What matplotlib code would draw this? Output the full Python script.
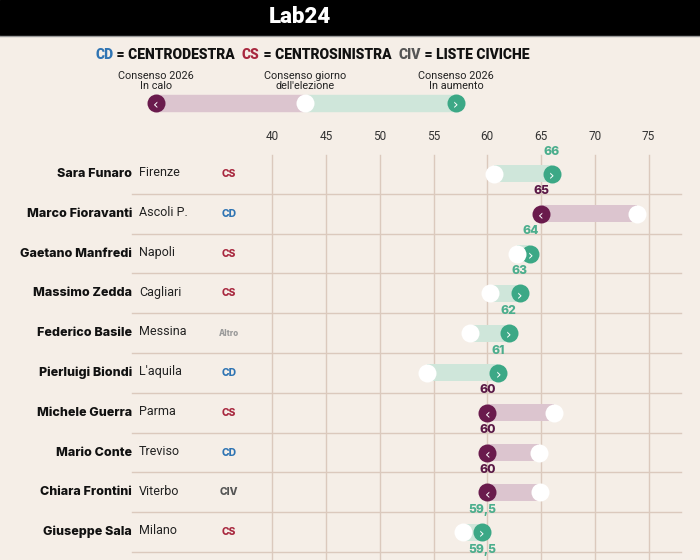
import matplotlib
matplotlib.use("Agg")
import matplotlib.pyplot as plt
from matplotlib.patches import Rectangle

# data (consenso 2026 vs giorno dell'elezione)
names = ['Sara Funaro', 'Marco Fioravanti', 'Gaetano Manfredi', 'Massimo Zedda',
         'Federico Basile', 'Pierluigi Biondi', 'Michele Guerra', 'Mario Conte',
         'Chiara Frontini', 'Giuseppe Sala', '']
cities = ['Firenze', 'Ascoli P.', 'Napoli', 'Cagliari', 'Messina', "L'aquila",
          'Parma', 'Treviso', 'Viterbo', 'Milano', '']
parties = ['CS', 'CD', 'CS', 'CS', 'Altro', 'CD', 'CS', 'CD', 'CIV', 'CS', '']
election = [60.6, 73.9, 62.8, 60.3, 58.4, 54.4, 66.2, 64.8, 64.9, 57.7, 58.0]
consenso = [66, 65, 64, 63, 62, 61, 60, 60, 60, 59.5, 59.5]
ticks = [40, 45, 50, 55, 60, 65, 70, 75]

BG = '#f5eee7'
GREEN = '#3ca886'
GREEN_LIGHT = '#cfe6da'
GREEN_TXT = '#4bae8d'
PURPLE = '#6a1b4d'
PURPLE_LIGHT = '#dcc5cf'
PURPLE_TXT = '#5a1846'
GRID = '#dbc9bd'
party_colors = {'CS': '#a8283f', 'CD': '#2f74b3', 'CIV': '#555555', 'Altro': '#9a9a9a'}
HEAVY = dict(family='Inter', fontweight=800, fontstyle='normal')
CHEV = dict(ha='center', va='center_baseline', color='white', fontsize=10, family='DejaVu Sans')

fig = plt.figure(figsize=(7, 5.6), dpi=100, facecolor=BG)

# main data axes: x in consensus %, y in row units (row pitch ~39.8 px)
ax = fig.add_axes([0, 0, 1, 1])
ax.set_facecolor(BG)
ax.set_xlim(14.67, 79.79)
ax.set_ylim(9.70, -4.37)
ax.axis('off')
yx = ax.get_yaxis_transform()

for t in ticks:
    ax.plot([t, t], [-0.48, 9.7], color=GRID, lw=1, zorder=0)
    ax.text(t, -0.93, str(t), ha='center', va='center', fontsize=8.5,
            family='Roboto', color='#333333')

for i in range(len(names)):
    ax.plot([132 / 700, 681 / 700], [i + 0.5, i + 0.5], transform=yx,
            color=GRID, lw=1, zorder=0)

for i, (nm, city, party, e, c) in enumerate(zip(names, cities, parties, election, consenso)):
    up = c >= e
    ax.barh(i, c - e, left=e, height=0.43,
            color=GREEN_LIGHT if up else PURPLE_LIGHT, zorder=2)
    ax.scatter(c, i, s=168, color=GREEN if up else PURPLE, zorder=3, linewidths=0)
    if nm:
        ax.text(c, i + 0.02, '›' if up else '‹', zorder=4, **CHEV)
    ax.scatter(e, i, s=168, color='white', zorder=5, linewidths=0)
    label = f'{c:g}'.replace('.', ',')
    ax.text(c, i - 0.56, label, ha='center', va='center', fontsize=8.7,
            color=GREEN_TXT if up else PURPLE_TXT, **HEAVY)
    if not nm:
        continue
    ax.text(132 / 700, i, nm, transform=yx, ha='right', va='center',
            fontsize=9, color='#111111', **HEAVY)
    ax.text(139 / 700, i - 0.03, city, transform=yx, ha='left', va='center',
            fontsize=9, family='Roboto', color='#222222')
    ax.text(229 / 700, i, party, transform=yx, ha='center', va='center',
            fontsize=5.8 if party == 'Altro' else 7.4, color=party_colors[party], **HEAVY)

# overlay axes in pixel units for header and key
pax = fig.add_axes([0, 0, 1, 1])
pax.set_xlim(0, 700)
pax.set_ylim(560, 0)
pax.axis('off')
pax.patch.set_alpha(0)

pax.add_patch(Rectangle((0, 0), 700, 35, color='black', zorder=1))
pax.plot([0, 700], [35.5, 35.5], color='#9a9a9a', lw=1, zorder=2)
pax.text(300, 17, 'Lab24', ha='center', va='center', color='white',
         fontsize=16, fontweight='black', family='Roboto', zorder=3)

# party legend line
pieces = [('CD', party_colors['CD']), (' = CENTRODESTRA  ', '#111111'),
          ('CS', party_colors['CS']), (' = CENTROSINISTRA  ', '#111111'),
          ('CIV', '#555555'), (' = LISTE CIVICHE', '#111111')]
prev = pax.text(95, 55, pieces[0][0], ha='left', va='center', color=pieces[0][1],
                fontsize=10, fontweight='black', family='Roboto')
for txt, col in pieces[1:]:
    prev = pax.annotate(txt, xy=(1, 0.5), xycoords=prev, ha='left', va='center',
                        color=col, fontsize=10, fontweight='black', family='Roboto')

# key
pax.add_patch(Rectangle((156, 95), 149, 16, color=PURPLE_LIGHT, zorder=2))
pax.add_patch(Rectangle((305, 95), 151, 16, color=GREEN_LIGHT, zorder=2))
pax.scatter([156], [103], s=168, color=PURPLE, zorder=3, linewidths=0)
pax.text(156, 103.5, '‹', zorder=4, **CHEV)
pax.scatter([456], [103], s=168, color=GREEN, zorder=3, linewidths=0)
pax.text(456, 103.5, '›', zorder=4, **CHEV)
pax.scatter([305], [103], s=168, color='white', zorder=5, linewidths=0)
for x, txt in [(156, 'Consenso 2026\nIn calo'), (305, 'Consenso giorno\ndell\'elezione'),
               (456, 'Consenso 2026\nIn aumento')]:
    pax.text(x, 81, txt, ha='center', va='center', fontsize=7.8, family='Roboto',
             color='#222222', linespacing=1.1)

fig.savefig('out.png', dpi=100, facecolor=BG)
